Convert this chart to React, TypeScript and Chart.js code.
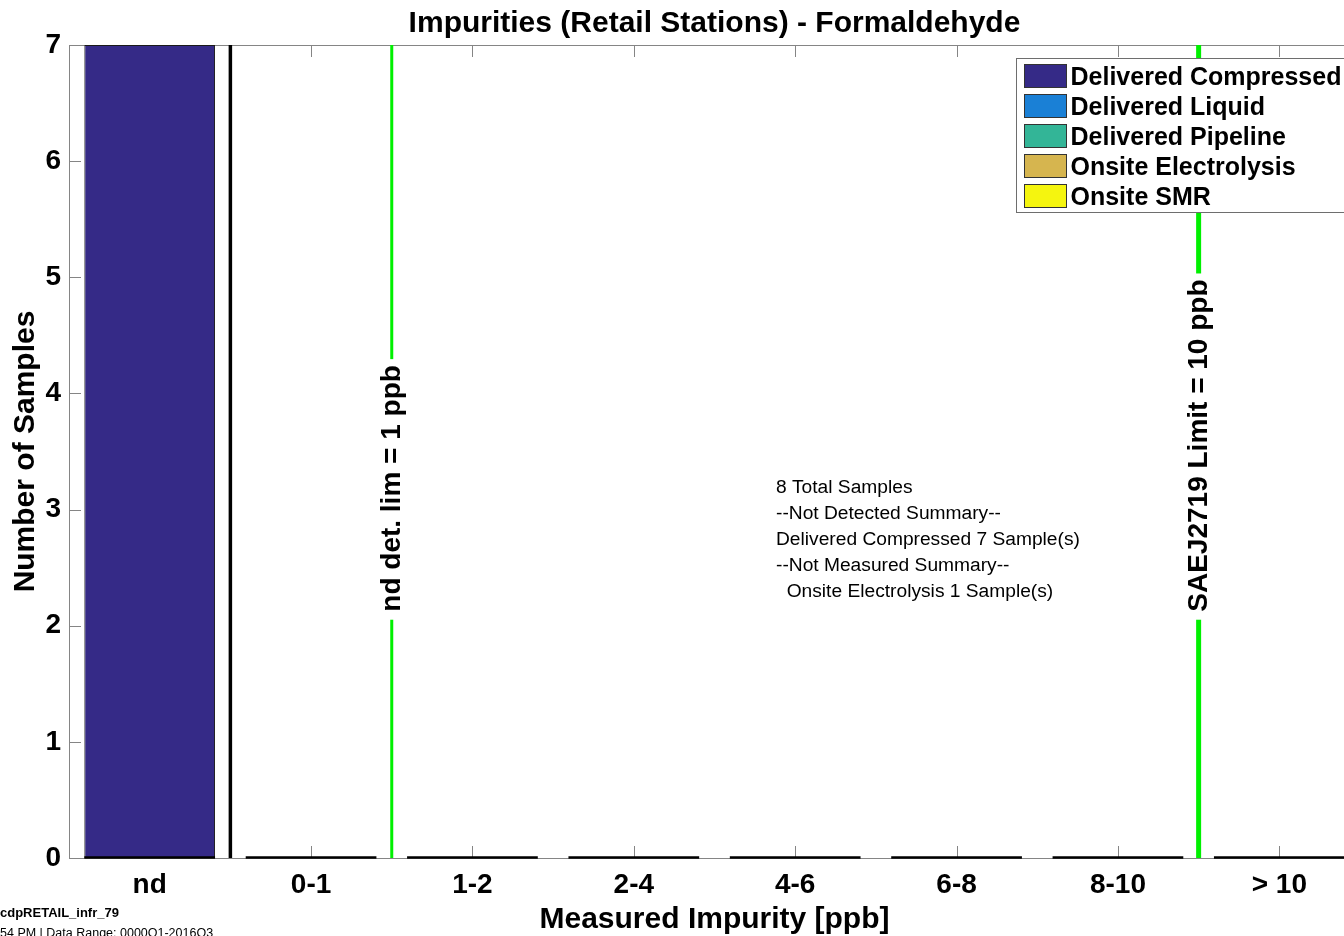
import React, { useEffect, useRef } from 'react';
import { Chart, registerables } from 'chart.js';

Chart.register(...registerables);

// ---------- data ----------
const categories = ['nd', '0-1', '1-2', '2-4', '4-6', '6-8', '8-10', '> 10'];
const seriesNames = ['Delivered Compressed', 'Delivered Liquid', 'Delivered Pipeline', 'Onsite Electrolysis', 'Onsite SMR'];
const deliveredCompressed = [7, 0, 0, 0, 0, 0, 0, 0];
const deliveredLiquid = [0, 0, 0, 0, 0, 0, 0, 0];
const deliveredPipeline = [0, 0, 0, 0, 0, 0, 0, 0];
const onsiteElectrolysis = [0, 0, 0, 0, 0, 0, 0, 0];
const onsiteSMR = [0, 0, 0, 0, 0, 0, 0, 0];
const yTicks = [0, 1, 2, 3, 4, 5, 6, 7];
const ndDividerAt = 0.5; // boundary between "nd" and "0-1"
const limitPositions = [1.5, 6.5];
const limitLabels = ['nd det. lim = 1 ppb', 'SAEJ2719 Limit = 10 ppb'];
const limitLabelStartValue = 2;
const summaryLines = [
  '8 Total Samples',
  '--Not Detected Summary--',
  'Delivered Compressed 7 Sample(s)',
  '--Not Measured Summary--',
  '  Onsite Electrolysis 1 Sample(s)',
];
const titleText = 'Impurities (Retail Stations) - Formaldehyde';
const xTitle = 'Measured Impurity [ppb]';
const yTitle = 'Number of Samples';
const footerLines = ['cdpRETAIL_infr_79', '54 PM | Data Range: 0000Q1-2016Q3'];

// ---------- style ----------
const seriesColors = ['#352a87', '#1a80d6', '#33b597', '#d6b54f', '#f5f50f'];
const limitWidths = [3, 5];
const FONT = '"Liberation Sans", Arial, Helvetica, sans-serif';
const CANVAS_W = 1372;
const CANVAS_H = 936;

const seriesData = [deliveredCompressed, deliveredLiquid, deliveredPipeline, onsiteElectrolysis, onsiteSMR];

const overlayPlugin = {
  id: 'overlay',
  beforeDatasetsDraw(chart: any) {
    const { ctx, chartArea: a, scales } = chart;
    const xs = scales.x;
    const ys = scales.y;
    ctx.save();
    ctx.strokeStyle = '#858585';
    ctx.lineWidth = 1;
    ctx.strokeRect(Math.round(a.left) + 0.5, Math.round(a.top) + 0.5, Math.round(a.right - a.left), Math.round(a.bottom - a.top));
    const line = (x1: number, y1: number, x2: number, y2: number) => {
      ctx.beginPath();
      ctx.moveTo(x1, y1);
      ctx.lineTo(x2, y2);
      ctx.stroke();
    };
    categories.forEach((_, i) => {
      const px = Math.round(xs.getPixelForValue(i)) + 0.5;
      line(px, a.top, px, a.top + 12);
      line(px, a.bottom, px, a.bottom - 12);
    });
    yTicks.forEach((v) => {
      const py = Math.round(ys.getPixelForValue(v)) + 0.5;
      line(a.left, py, a.left + 12, py);
      line(a.right, py, a.right - 12, py);
    });
    ctx.restore();
  },
  afterDatasetsDraw(chart: any) {
    const { ctx, chartArea: a, scales } = chart;
    const xs = scales.x;
    const ys = scales.y;
    ctx.save();
    const line = (x1: number, y1: number, x2: number, y2: number) => {
      ctx.beginPath();
      ctx.moveTo(x1, y1);
      ctx.lineTo(x2, y2);
      ctx.stroke();
    };
    // zero-height bar edges along the baseline
    const base = ys.getPixelForValue(0);
    const meta = chart.getDatasetMeta(0);
    ctx.strokeStyle = '#000000';
    ctx.lineWidth = 2.5;
    meta.data.forEach((el: any) => {
      const p = el.getProps(['x', 'width'], true);
      line(p.x - p.width / 2, base - 0.5, p.x + p.width / 2, base - 0.5);
    });
    // nd divider
    ctx.strokeStyle = '#000000';
    ctx.lineWidth = 3.5;
    const dx = xs.getPixelForValue(ndDividerAt);
    line(dx, a.top, dx, a.bottom);
    // limit lines with labels
    limitPositions.forEach((pos, i) => {
      const lx = xs.getPixelForValue(pos);
      ctx.strokeStyle = '#00f000';
      ctx.lineWidth = limitWidths[i];
      line(lx, a.top, lx, a.bottom);
      ctx.font = `bold 28px ${FONT}`;
      const tw = ctx.measureText(limitLabels[i]).width;
      const startY = ys.getPixelForValue(limitLabelStartValue) - 14;
      ctx.fillStyle = '#ffffff';
      ctx.fillRect(lx - 16, startY - tw - 6, 32, tw + 14);
      ctx.save();
      ctx.translate(lx + 1, startY);
      ctx.rotate(-Math.PI / 2);
      ctx.fillStyle = '#000000';
      ctx.textAlign = 'left';
      ctx.textBaseline = 'middle';
      ctx.fillText(limitLabels[i], 0, 0);
      ctx.restore();
    });
    // summary text
    ctx.fillStyle = '#000000';
    ctx.font = `19.2px ${FONT}`;
    ctx.textAlign = 'left';
    ctx.textBaseline = 'middle';
    summaryLines.forEach((s, i) => {
      ctx.fillText(s, 776, 488 + i * 26);
    });
    ctx.restore();
  },
  afterDraw(chart: any) {
    const { ctx, chartArea: a } = chart;
    ctx.save();
    // legend
    const lx = 1016.5;
    const ly = a.top + 13.5;
    const lw = a.right - 12 - lx;
    const lh = 154;
    ctx.fillStyle = '#ffffff';
    ctx.fillRect(lx, ly, lw, lh);
    ctx.strokeStyle = '#6e6e6e';
    ctx.lineWidth = 1;
    ctx.strokeRect(lx, ly, lw, lh);
    chart.data.datasets.forEach((ds: any, i: number) => {
      const sy = ly + 6 + i * 30;
      ctx.fillStyle = ds.backgroundColor;
      ctx.fillRect(lx + 8, sy, 42, 23);
      ctx.strokeStyle = '#333333';
      ctx.strokeRect(lx + 8, sy, 42, 23);
      ctx.fillStyle = '#000000';
      ctx.font = `bold 25px ${FONT}`;
      ctx.textAlign = 'left';
      ctx.textBaseline = 'middle';
      ctx.fillText(ds.label, lx + 54, sy + 13.5);
    });
    // title
    ctx.fillStyle = '#000000';
    ctx.font = `bold 30px ${FONT}`;
    ctx.textAlign = 'center';
    ctx.textBaseline = 'middle';
    ctx.fillText(titleText, (a.left + a.right) / 2, 24);
    // footer
    ctx.textAlign = 'left';
    ctx.font = `bold 13px ${FONT}`;
    ctx.textBaseline = 'middle';
    ctx.fillText(footerLines[0], 0, 913);
    ctx.font = `12.5px ${FONT}`;
    ctx.textBaseline = 'alphabetic';
    ctx.fillText(footerLines[1], 0, 937);
    ctx.restore();
  },
};

export default function App() {
  const canvasRef = useRef<HTMLCanvasElement | null>(null);

  useEffect(() => {
    if (!canvasRef.current) return;
    Chart.defaults.font.family = FONT;
    const chart = new Chart(canvasRef.current, {
      type: 'bar',
      data: {
        labels: categories,
        datasets: seriesNames.map((name, i) => ({
          label: name,
          data: seriesData[i],
          backgroundColor: seriesColors[i],
          borderColor: '#1a1a1a',
          borderWidth: 1,
          borderSkipped: false,
          barPercentage: 0.81,
          categoryPercentage: 1,
        })),
      },
      options: {
        responsive: false,
        animation: false,
        devicePixelRatio: 1,
        layout: { padding: { top: 45, right: 12, left: 0, bottom: 0 } },
        plugins: {
          legend: { display: false },
          tooltip: { enabled: false },
          title: { display: false },
        },
        scales: {
          x: {
            type: 'category',
            stacked: true,
            offset: true,
            grid: { display: false, drawTicks: false },
            border: { display: false },
            ticks: {
              color: '#000000',
              font: { size: 28, weight: 'bold' },
              padding: 10,
              maxRotation: 0,
              autoSkip: false,
            },
            title: {
              display: true,
              text: xTitle,
              color: '#000000',
              font: { size: 30, weight: 'bold', lineHeight: 1.07 },
              padding: { top: 0, bottom: 0 },
            },
            afterFit: (s: any) => {
              s.height = 78;
            },
          },
          y: {
            stacked: true,
            min: 0,
            max: 7,
            grid: { display: false, drawTicks: false },
            border: { display: false },
            ticks: {
              stepSize: 1,
              color: '#000000',
              font: { size: 28, weight: 'bold' },
              padding: 8,
            },
            title: {
              display: true,
              text: yTitle,
              color: '#000000',
              font: { size: 30, weight: 'bold' },
              padding: { top: 8, bottom: 0 },
            },
            afterFit: (s: any) => {
              s.width = 69;
            },
          },
        },
      },
      plugins: [overlayPlugin],
    } as any);
    return () => chart.destroy();
  }, []);

  return (
    <div
      style={{
        position: 'fixed',
        left: 0,
        top: 0,
        width: 1344,
        height: 936,
        overflow: 'hidden',
        background: '#ffffff',
      }}
    >
      <canvas
        ref={canvasRef}
        width={CANVAS_W}
        height={CANVAS_H}
        style={{ width: CANVAS_W, height: CANVAS_H, display: 'block' }}
      />
    </div>
  );
}
